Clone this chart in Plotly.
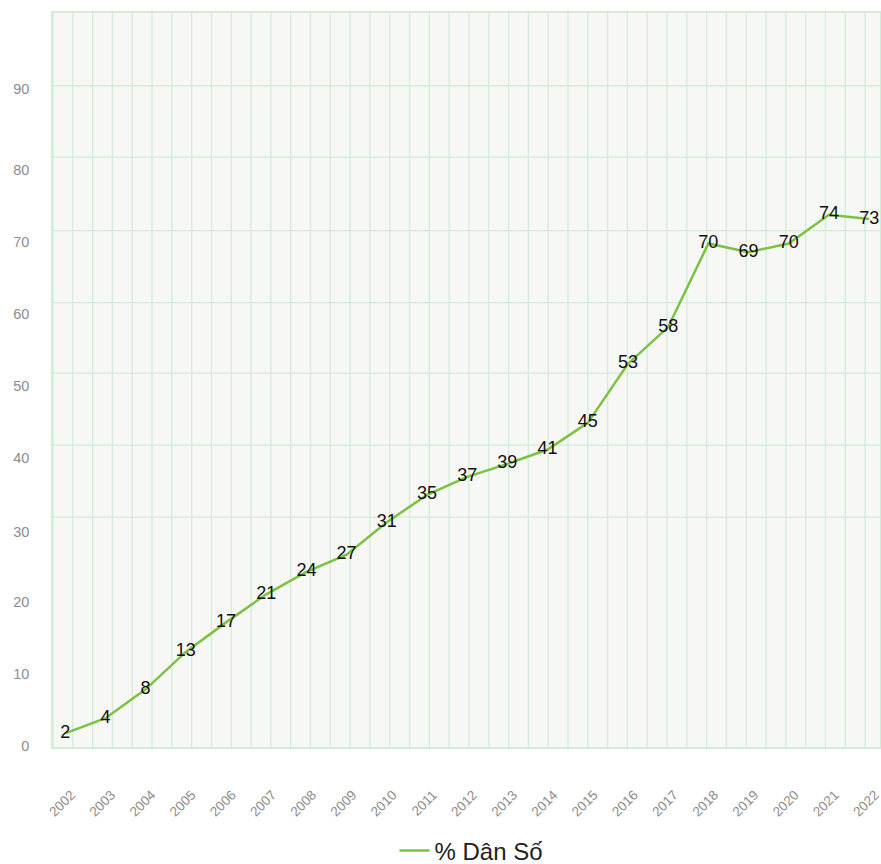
import plotly.graph_objects as go

# ── 資料 ─────────────────────────────────────────────
YEARS = [str(y) for y in range(2002, 2023)]
PCT_POP = [1.8, 3.9, 7.9, 13.1, 17.2, 21.1, 24.2, 26.6, 31.1, 34.9, 37.4,
           39.2, 41.2, 44.9, 53.1, 58.2, 69.8, 68.6, 69.8, 73.8, 73.2]
SERIES_NAME = "% Dân Số"

Y_TICK_TEXT = ["0", "10", "20", "30", "40", "50", "60", "70", "80", "90"]
Y_TICK_POS = [0, 10, 20, 29.7, 40, 50, 60, 70, 80, 91.3]
H_GRID = [31.8, 41.8, 51.8, 61.6, 71.6, 81.8, 91.7]

# ── 樣式 ─────────────────────────────────────────────
LINE_COLOR = "#7cc242"
GRID_COLOR = "#d3ecd6"
PLOT_BG = "#f7f7f5"
TICK_COLOR = "#8c8c8c"
FONT = "Liberation Sans, Arial, sans-serif"

W, H = 881, 864
PLOT_L, PLOT_R = 53.3, 880.0
PLOT_T, PLOT_B = 12.7, 747.0
V_STEP = 19.8

fig = go.Figure()
fig.add_trace(go.Scatter(
    x=YEARS, y=PCT_POP, name=SERIES_NAME,
    mode="lines+text",
    line=dict(color=LINE_COLOR, width=2.5),
    texttemplate="%{y:.0f}",
    textposition="middle center",
    textfont=dict(size=18, color="#111111", family=FONT),
    cliponaxis=False,
))

# 格線用 shapes 畫（參考圖的格線與刻度並未對齊）
shapes = []
w = PLOT_R - PLOT_L
k = 0
while PLOT_L + k * V_STEP < PLOT_R - 1:
    xf = (k * V_STEP) / w
    shapes.append(dict(type="line", xref="paper", yref="paper", x0=xf, x1=xf, y0=0, y1=1,
                       line=dict(color=GRID_COLOR, width=1.3), layer="below"))
    k += 1
for v in H_GRID:
    shapes.append(dict(type="line", xref="paper", yref="y", x0=0, x1=1, y0=v, y1=v,
                       line=dict(color=GRID_COLOR, width=1.3), layer="below"))

fig.update_layout(
    width=W, height=H,
    paper_bgcolor="white",
    plot_bgcolor=PLOT_BG,
    font=dict(family=FONT),
    margin=dict(l=PLOT_L, r=W - PLOT_R, t=PLOT_T, b=H - PLOT_B, autoexpand=False),
    shapes=shapes,
    showlegend=True,
    legend=dict(
        orientation="h",
        x=0.506, xanchor="center",
        yref="container",
        y=(H - 851) / H, yanchor="middle",
        font=dict(size=24, color="#222222", family=FONT),
        bgcolor="rgba(0,0,0,0)",
    ),
    xaxis=dict(
        type="category",
        range=[-0.304, 20.27],
        automargin=False,
        showgrid=False,
        showline=True, linecolor=GRID_COLOR, linewidth=1.5, mirror=True,
        tickangle=-45,
        tickfont=dict(size=13.5, color=TICK_COLOR),
        ticks="",
        ticklabelstandoff=33,
        ticklabelshift=6,
        zeroline=False,
    ),
    yaxis=dict(
        range=[-0.1, 101.8],
        automargin=False,
        tickvals=Y_TICK_POS,
        ticktext=Y_TICK_TEXT,
        showgrid=False,
        zeroline=False,
        showline=True, linecolor=GRID_COLOR, linewidth=1.5, mirror=True,
        tickfont=dict(size=14.5, color=TICK_COLOR),
        ticks="",
        ticklabelstandoff=19,
    ),
)

# 去掉 body 預設 8px 邊距，讓圖剛好貼齊視窗
fig.write_html(
    "out.html",
    config={"displayModeBar": False},
    post_script="document.body.style.margin='0';document.body.style.overflow='hidden';",
)
